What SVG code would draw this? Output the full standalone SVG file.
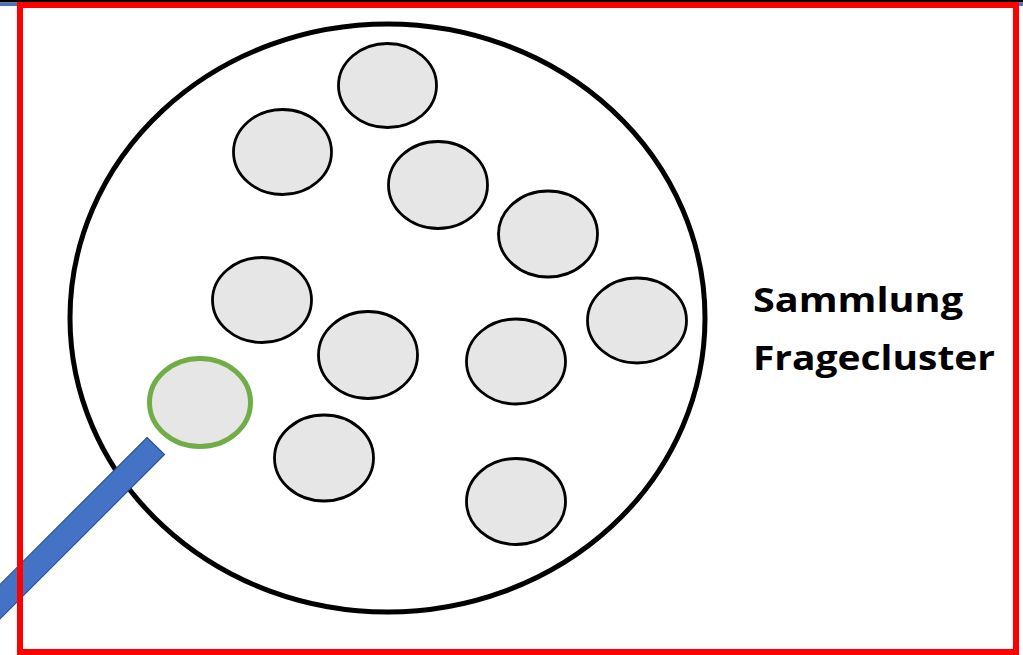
<svg xmlns="http://www.w3.org/2000/svg" width="1023" height="655" viewBox="0 0 1023 655">
  <style>
    .item { fill: #E6E6E6; stroke: #000000; stroke-width: 2.8; }
    .sel { fill: #E6E6E6; stroke: #70AD47; stroke-width: 5; }
    .label { font-family: "Open Sans", "Liberation Sans", Arial, sans-serif; font-weight: bold; font-size: 34px; fill: #000000; }
  </style>
  <rect x="0" y="0" width="1023" height="655" fill="#FFFFFF"/>
  <rect x="0" y="0" width="1023" height="2.5" fill="#000000"/>
  <rect x="0" y="3" width="1023" height="3" fill="#4472C4"/>
  <g id="cluster">
    <ellipse cx="387.5" cy="318" rx="317.5" ry="294" fill="#FFFFFF" stroke="#000000" stroke-width="5"/>
  </g>
  <g id="q1"><ellipse class="item" cx="387.5" cy="85.5" rx="49" ry="42"/></g>
  <g id="q2"><ellipse class="item" cx="282.5" cy="152" rx="49" ry="42.5"/></g>
  <g id="q3"><ellipse class="item" cx="438" cy="185" rx="49.5" ry="43.5"/></g>
  <g id="q4"><ellipse class="item" cx="548" cy="234" rx="49.5" ry="43"/></g>
  <g id="q5"><ellipse class="item" cx="262" cy="300" rx="49.5" ry="42.5"/></g>
  <g id="q6"><ellipse class="item" cx="637" cy="320.5" rx="49.5" ry="42.5"/></g>
  <g id="q7"><ellipse class="item" cx="368" cy="355" rx="49.5" ry="43.5"/></g>
  <g id="q8"><ellipse class="item" cx="516" cy="361.5" rx="49.5" ry="42.5"/></g>
  <g id="q9"><ellipse class="item" cx="324" cy="458" rx="49.5" ry="43"/></g>
  <g id="q10"><ellipse class="item" cx="516" cy="501.5" rx="49.5" ry="43"/></g>
  <g id="q-selected"><ellipse class="sel" cx="200" cy="402.5" rx="50.5" ry="44"/></g>
  <g id="connectors">
    <polygon points="147,437.5 164.5,454.5 -30,649 -47.5,632" fill="#4472C4" stroke="#2F528F" stroke-width="1.2"/>
  </g>
  <g id="title">
    <text class="label" x="753" y="312" textLength="210" lengthAdjust="spacingAndGlyphs">Sammlung</text>
    <text class="label" x="753" y="370" textLength="242" lengthAdjust="spacingAndGlyphs">Fragecluster</text>
  </g>
  <rect x="20" y="5" width="996" height="647" fill="none" stroke="#FF0000" stroke-width="6"/>
</svg>
